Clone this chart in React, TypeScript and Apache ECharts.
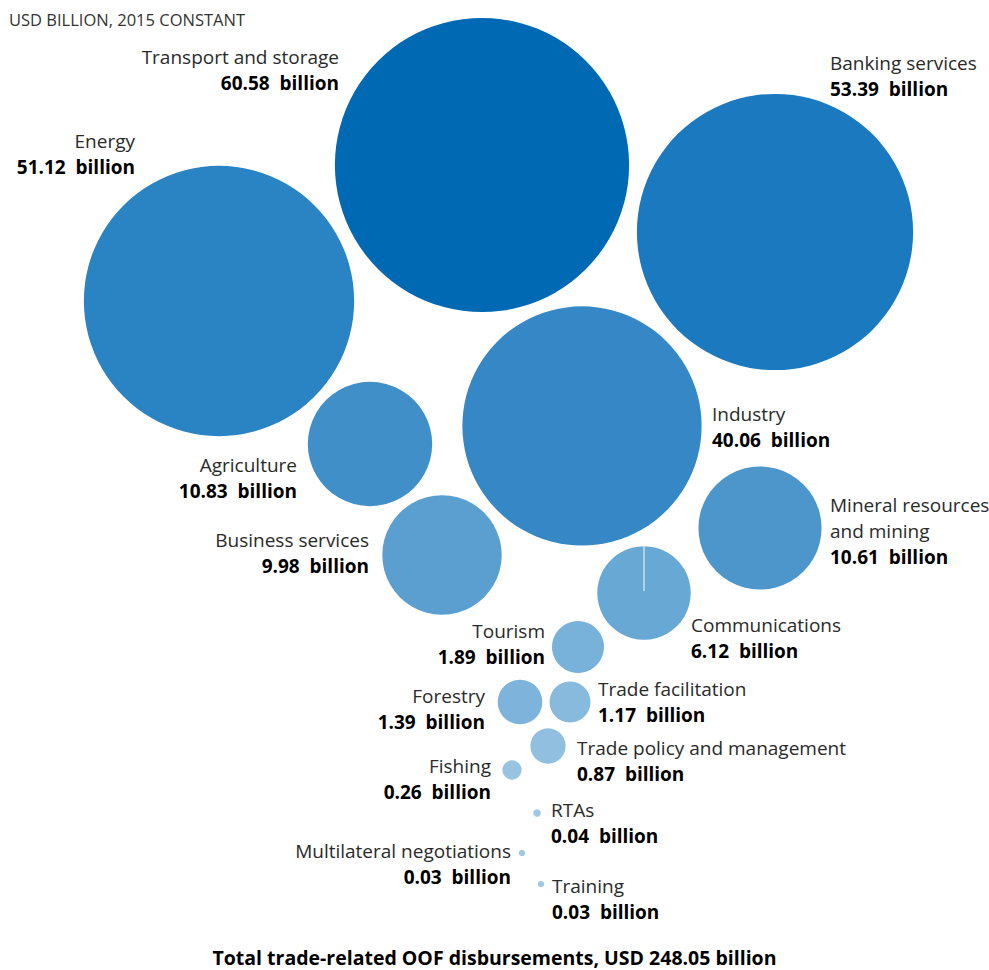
import React, { useEffect, useRef } from "react";
import * as echarts from "echarts";

// ---- data ----
const sectors = [
  "Transport and storage",
  "Banking services",
  "Energy",
  "Industry",
  "Agriculture",
  "Mineral resources\nand mining",
  "Business services",
  "Communications",
  "Tourism",
  "Trade facilitation",
  "Forestry",
  "Trade policy and management",
  "Fishing",
  "RTAs",
  "Multilateral negotiations",
  "Training",
];
const values = [60.58, 53.39, 51.12, 40.06, 10.83, 10.61, 9.98, 6.12, 1.89, 1.17, 1.39, 0.87, 0.26, 0.04, 0.03, 0.03];
const colors = [
  "#0069b4", "#1a79bf", "#2a83c3", "#3588c5", "#418fc9", "#4d96cc", "#5b9ed0", "#68a8d4",
  "#78b1d9", "#87badd", "#7eb4db", "#90bfe0", "#98c4e2", "#a0c8e4", "#a0c8e4", "#a0c8e4",
];
// packed layout (centres of bubbles in the pixel-like layout space)
const bubbleX = [482, 775, 219, 582, 370, 760, 442, 644, 578, 570, 520, 548, 512, 537, 522, 541];
const bubbleY = [165, 232, 301, 426, 444, 528, 555, 593, 647, 702, 702, 746, 770, 813, 853, 884];
// label anchors
const labelX = [339, 830, 135, 712, 297, 830, 369, 691, 545, 598, 485, 577, 491, 551, 511, 552];
const labelY = [70, 75.5, 154, 427, 478, 531, 553, 638, 644, 702, 709, 761, 779, 823, 863.5, 899];
const labelSide = ["left", "right", "left", "right", "left", "right", "left", "right", "left", "right", "left", "right", "left", "right", "left", "right"];
const unitTitle = "USD BILLION, 2015 CONSTANT";
const totalTitle = "Total trade-related OOF disbursements, USD 248.05 billion";

const DIAM_K = 37.8; // diameter per sqrt(billion)
const FONT = "'Open Sans', 'Noto Sans', sans-serif";

export default function App() {
  const ref = useRef<HTMLDivElement>(null);
  useEffect(() => {
    document.body.style.margin = "0";
    const chart = echarts.init(ref.current!, null, { renderer: "svg" });
    const commIdx = 7;
    const commR = (DIAM_K * Math.sqrt(values[commIdx])) / 2;
    chart.setOption({
      animation: false,
      backgroundColor: "#ffffff",
      textStyle: { fontFamily: FONT },
      title: [
        {
          text: unitTitle,
          left: 9,
          top: 11,
          padding: 0,
          textStyle: { fontSize: 16.5, fontWeight: "normal", color: "#333", fontFamily: FONT },
        },
        {
          text: totalTitle,
          left: "center",
          top: 945,
          padding: 0,
          textStyle: { fontSize: 19.5, fontWeight: "bold", color: "#000", fontFamily: FONT, lineHeight: 24 },
        },
      ],
      grid: { left: 0, top: 0, width: 989, height: 970 },
      xAxis: { type: "value", min: 0, max: 989, show: false },
      yAxis: { type: "value", min: 0, max: 970, inverse: true, show: false },
      series: [
        {
          type: "scatter",
          symbol: "circle",
          symbolSize: (val: number[]) => DIAM_K * Math.sqrt(val[2]),
          data: values.map((v, i) => ({
            name: sectors[i],
            value: [bubbleX[i], bubbleY[i], v],
            itemStyle: { color: colors[i], opacity: 1 },
          })),
          emphasis: { disabled: true },
          z: 2,
        },
        {
          type: "line",
          symbol: "none",
          data: [
            [bubbleX[commIdx], bubbleY[commIdx] - commR],
            [bubbleX[commIdx], bubbleY[commIdx] - 2],
          ],
          lineStyle: { color: "rgba(255,255,255,0.8)", width: 1.2 },
          z: 3,
          silent: true,
        },
        {
          type: "scatter",
          symbolSize: 0,
          silent: true,
          itemStyle: { opacity: 1 },
          data: values.map((v, i) => ({
            name: sectors[i],
            value: [labelX[i], labelY[i], v],
            label: {
              show: true,
              position: labelSide[i],
              distance: 0,
              opacity: 1,
              formatter: () => {
                const nameLines = sectors[i].split("\n").map((s) => `{n|${s}}`).join("\n");
                return `${nameLines}\n{v|${v.toFixed(2)}  billion}`;
              },
              rich: {
                n: { fontSize: 19, color: "#2a2a2a", lineHeight: 26, fontFamily: FONT, align: labelSide[i] === "left" ? "right" : "left" },
                v: { fontSize: 19, fontWeight: "bold", color: "#000", lineHeight: 26, fontFamily: FONT, align: labelSide[i] === "left" ? "right" : "left" },
              },
            },
          })),
          z: 4,
        },
      ],
    });
    return () => chart.dispose();
  }, []);
  return <div ref={ref} style={{ width: 989, height: 970 }} />;
}
